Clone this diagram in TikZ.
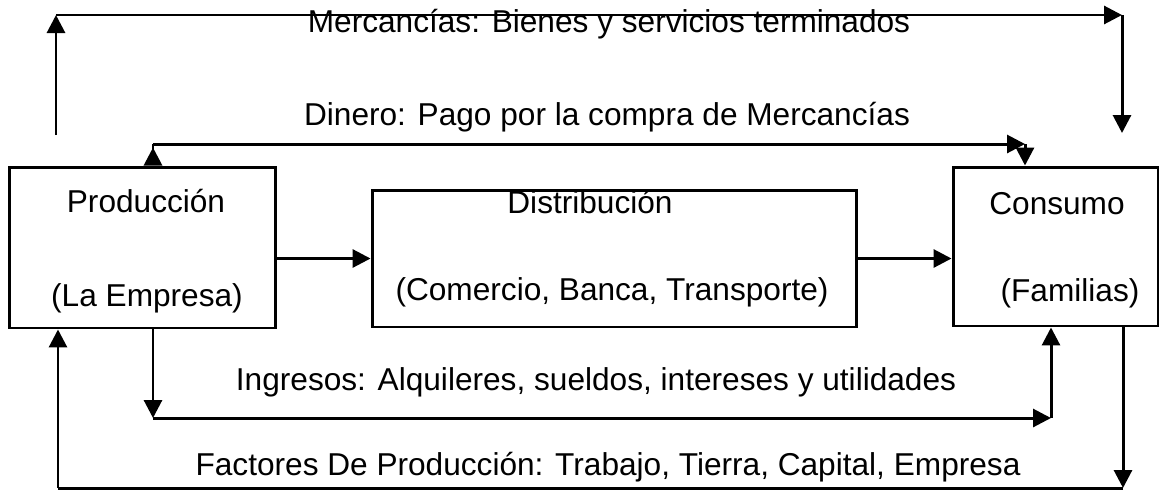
\documentclass[tikz,border=0pt]{standalone}
\usepackage{fontspec}
\setmainfont{Liberation Sans}
\usetikzlibrary{arrows.meta}
\tikzset{
  box/.style={draw, line width=1.7pt, inner sep=0pt},
  plain/.style={line width=1.7pt},
  flow/.style={line width=1.7pt, -{Triangle[length=0.36cm,width=0.36cm]}},
  lbl/.style={anchor=base, inner sep=0pt, font=\fontsize{18}{21}\selectfont}
}

\begin{document}
\begin{tikzpicture}[x=0.02cm,y=-0.02cm]
    \useasboundingbox (0,0) rectangle (1159,491);
    \node[box, minimum width=5.34cm, minimum height=3.22cm] (prod) at (142.5,247.5) {};
    \node[box, minimum width=9.7cm, minimum height=2.74cm] (dist) at (614.5,258.5) {};
    \node[box, minimum width=4.1cm, minimum height=3.18cm] (cons) at (1055.5,246.5) {};
    \node[lbl] (prodname) at (146,212) {Producción};
    \node[lbl] (prodsub) at (147,306) {(La Empresa)};
    \node[lbl] (distname) at (590,213) {Distribución};
    \node[lbl] (distsub) at (612,300) {(Comercio, Banca, Transporte)};
    \node[lbl] (consname) at (1057,214) {Consumo};
    \node[lbl] (conssub) at (1070,301) {(Familias)};
    \node[lbl] (merc) at (609,32) {Mercancías: Bienes y servicios terminados};
    \node[lbl] (din) at (607,125) {Dinero: Pago por la compra de Mercancías};
    \node[lbl] (ing) at (596,390) {Ingresos: Alquileres, sueldos, intereses y utilidades};
    \node[lbl] (fac) at (608,475) {Factores De Producción: Trabajo, Tierra, Capital, Empresa};
    \coordinate (m0) at (56,135);
    \coordinate (m1) at (56,15);
    \coordinate (m2) at (1122,15);
    \coordinate (m3) at (1122,133);
    \draw[flow] (m0) -- (m1);
    \draw[flow] (m1) -- (m2);
    \draw[flow] (m2) -- (m3);
    \coordinate (d1) at (153,144);
    \coordinate (d2) at (1025,144);
    \draw[plain, {Triangle[reversed,length=0.36cm,width=0.36cm]}-] (prod.north -| d1) -- (d1);
    \draw[flow] (d1) -- (d2);
    \draw[flow] (d2) -- (cons.north -| d2);
    \draw[flow] (prod.east |- dist) -- (dist.west);
    \draw[flow] (dist.east) -- (cons.west |- dist);
    \coordinate (i1) at (153,418);
    \coordinate (i2) at (1051,418);
    \draw[flow] (prod.south -| i1) -- (i1);
    \draw[flow] (i1) -- (i2);
    \draw[flow] (i2) -- (cons.south -| i2);
    \coordinate (f0) at (58,488);
    \coordinate (f1) at (1123,488);
    \draw[flow] (cons.south -| f1) -- (f1);
    \draw[plain] (f1) -- (f0);
    \draw[flow] (f0) -- (prod.south -| f0);
  \end{tikzpicture}
\end{document}
